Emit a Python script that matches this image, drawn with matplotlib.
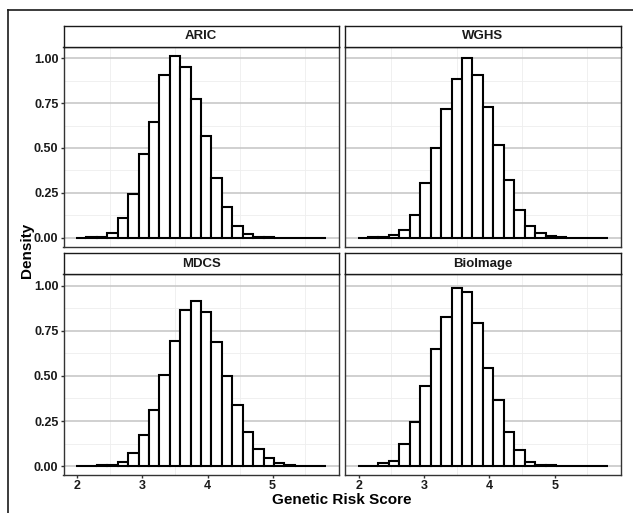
import matplotlib
matplotlib.use('Agg')
import matplotlib.pyplot as plt
from matplotlib.lines import Line2D
import numpy as np

plt.rcParams['font.family'] = ['Liberation Sans', 'DejaVu Sans']
plt.rcParams['font.weight'] = 'bold'

# bins shared by all cohorts
bin_start = 1.98
bin_width = 0.16

cohorts = ['ARIC', 'WGHS', 'MDCS', 'BioImage']

aric = [0.0, 0.001, 0.005, 0.024, 0.108, 0.242, 0.468, 0.645, 0.909, 1.013, 0.950, 0.771,
        0.567, 0.335, 0.173, 0.067, 0.019, 0.004, 0.002, 0.0, 0.0, 0.0, 0.0, 0.0]
wghs = [0.0, 0.001, 0.005, 0.013, 0.043, 0.126, 0.303, 0.500, 0.717, 0.885, 1.004, 0.905,
        0.729, 0.515, 0.323, 0.154, 0.065, 0.024, 0.007, 0.002, 0.0, 0.0, 0.0, 0.0]
mdcs = [0.0, 0.0, 0.004, 0.007, 0.022, 0.074, 0.170, 0.311, 0.506, 0.693, 0.863, 0.917,
        0.852, 0.689, 0.502, 0.337, 0.187, 0.096, 0.046, 0.020, 0.009, 0.003, 0.001, 0.0]
bioimage = [0.002, 0.003, 0.017, 0.031, 0.122, 0.243, 0.443, 0.652, 0.826, 0.987, 0.967, 0.793,
            0.543, 0.365, 0.191, 0.091, 0.022, 0.006, 0.004, 0.0, 0.0, 0.0, 0.0, 0.0]
densities = [aric, wghs, mdcs, bioimage]

x_ticks = [2, 3, 4, 5]
y_ticks = [0.0, 0.25, 0.5, 0.75, 1.0]
y_tick_labels = ['0.00', '0.25', '0.50', '0.75', '1.00']

W, H = 633, 513


def px_rect(x0, y0, x1, y1):
    return [x0 / W, 1 - y1 / H, (x1 - x0) / W, (y1 - y0) / H]


fig = plt.figure(figsize=(W / 100, H / 100), dpi=100)
fig.patch.set_facecolor('white')

col_x = [(63.5, 338.5), (345, 620.7)]
rows = [((26, 46.7), (46.7, 246.7)), ((253.3, 274), (274, 475.3))]

for i, name in enumerate(cohorts):
    r, c = divmod(i, 2)
    x0, x1 = col_x[c]
    (s0, s1), (p0, p1) = rows[r]

    ax = fig.add_axes(px_rect(x0, p0, x1, p1))
    heights = densities[i]
    lefts = bin_start + bin_width * np.arange(len(heights))
    ax.bar(lefts, heights, width=bin_width, align='edge', color='white',
           edgecolor='black', linewidth=1.5, zorder=3)

    ax.set_xlim(1.788, 6.012)
    ax.set_ylim(-0.0507, 1.065)
    ax.set_xticks(x_ticks)
    ax.set_yticks(y_ticks)
    ax.set_xticks([2.5, 3.5, 4.5, 5.5], minor=True)
    ax.set_yticks([0.125, 0.375, 0.625, 0.875], minor=True)
    ax.grid(True, which='major', axis='y', color='#c4c4c4', linewidth=1.1, zorder=0)
    ax.grid(True, which='minor', color='#eeeeee', linewidth=0.6, zorder=0)
    ax.set_axisbelow(True)
    for sp in ax.spines.values():
        sp.set_color('#333333')
        sp.set_linewidth(1.0)
    ax.tick_params(which='minor', length=0)
    ax.tick_params(which='major', length=2.4, width=1.0, color='#333333',
                   labelsize=9, labelcolor='#1a1a1a', pad=1.2)
    if c == 0:
        ax.set_yticklabels(y_tick_labels, fontweight='bold')
    else:
        ax.tick_params(axis='y', length=0, labelleft=False)
    if r == 1:
        ax.set_xticklabels([str(t) for t in x_ticks], fontweight='bold')
    else:
        ax.tick_params(axis='x', length=0, labelbottom=False)

    sax = fig.add_axes(px_rect(x0, s0, x1, s1))
    sax.set_xticks([])
    sax.set_yticks([])
    for sp in sax.spines.values():
        sp.set_color('#1a1a1a')
        sp.set_linewidth(1.0)
    sax.text(0.5, 0.5, name, ha='center', va='center', fontsize=9.5,
             fontweight='bold', color='#1a1a1a', transform=sax.transAxes)

fig.text(342 / W, 1 - 500 / H, 'Genetic Risk Score', ha='center', va='center',
         fontsize=11, fontweight='bold')
fig.text(27 / W, 1 - 250 / H, 'Density', ha='center', va='center', rotation=90,
         fontsize=11, fontweight='bold')

# outer frame (top and left edges visible in the picture)
fig.add_artist(Line2D([8 / W, 1.0], [1 - 10 / H, 1 - 10 / H], color='#1a1a1a', linewidth=1.2))
fig.add_artist(Line2D([8 / W, 8 / W], [1 - 10 / H, 0.0], color='#1a1a1a', linewidth=1.2))

plt.savefig('out.png', dpi=100)
plt.close()
